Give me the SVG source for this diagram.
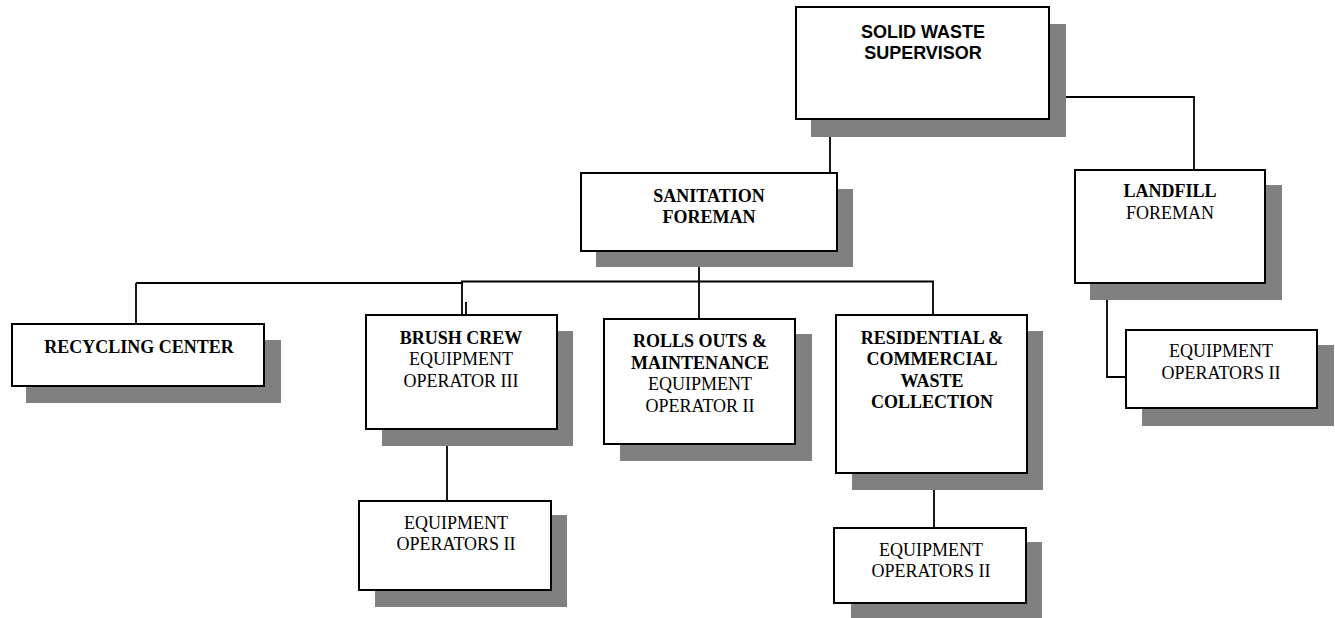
<svg xmlns="http://www.w3.org/2000/svg" width="1335" height="618" viewBox="0 0 1335 618">
<style>
.sh{fill:#808080}
.bx{fill:#fff;stroke:#000;stroke-width:2}
.ln{fill:none;stroke:#000;stroke-width:1.8}
text{font-family:"Liberation Serif","Times New Roman",serif;font-size:18px;text-anchor:middle;fill:#000}
.b{font-weight:bold}
.sans{font-family:"Liberation Sans",Arial,sans-serif;font-weight:bold}
</style>
<rect width="1335" height="618" fill="#fff"/>
<g id="connectors">
<path class="ln" d="M830,137 V173"/>
<path class="ln" d="M1066,97 H1194 V170"/>
<path class="ln" d="M699,267 V319"/>
<path class="ln" d="M136,283 H462 V281.5 H933 V315"/>
<path class="ln" d="M462,283 V315 M466,302 V315"/>
<path class="ln" d="M136,283 V324"/>
<path class="ln" d="M447,446 V501"/>
<path class="ln" d="M934,490 V528"/>
<path class="ln" d="M1107,300 V377 H1126"/>
</g>
<g id="supervisor">
<rect class="sh" x="811" y="24" width="255" height="113"/>
<rect class="bx" x="796" y="7" width="253" height="112"/>
<text class="sans" x="923" y="38">SOLID WASTE</text>
<text class="sans" x="923" y="59">SUPERVISOR</text>
</g>
<g id="sanitation">
<rect class="sh" x="596" y="189" width="257" height="78"/>
<rect class="bx" x="581" y="173" width="256" height="78"/>
<text class="b" x="709" y="202">SANITATION</text>
<text class="b" x="709" y="223">FOREMAN</text>
</g>
<g id="landfill">
<rect class="sh" x="1090" y="185" width="192" height="115"/>
<rect class="bx" x="1075" y="170" width="190" height="113"/>
<text class="b" x="1170" y="197">LANDFILL</text>
<text x="1170" y="219">FOREMAN</text>
</g>
<g id="recycling">
<rect class="sh" x="26" y="340" width="255" height="63"/>
<rect class="bx" x="12" y="324" width="252" height="62"/>
<text class="b" x="139" y="353">RECYCLING CENTER</text>
</g>
<g id="brush">
<rect class="sh" x="382" y="331" width="191" height="115"/>
<rect class="bx" x="366" y="315" width="191" height="114"/>
<text class="b" x="461" y="344">BRUSH CREW</text>
<text x="461" y="365">EQUIPMENT</text>
<text x="461" y="387">OPERATOR III</text>
</g>
<g id="rolls">
<rect class="sh" x="620" y="334" width="192" height="127"/>
<rect class="bx" x="604" y="319" width="191" height="125"/>
<text class="b" x="700" y="347">ROLLS OUTS &amp;</text>
<text class="b" x="700" y="369">MAINTENANCE</text>
<text x="700" y="390">EQUIPMENT</text>
<text x="700" y="412">OPERATOR II</text>
</g>
<g id="residential">
<rect class="sh" x="852" y="331" width="191" height="159"/>
<rect class="bx" x="836" y="315" width="191" height="158"/>
<text class="b" x="932" y="344">RESIDENTIAL &amp;</text>
<text class="b" x="932" y="365">COMMERCIAL</text>
<text class="b" x="932" y="387">WASTE</text>
<text class="b" x="932" y="408">COLLECTION</text>
</g>
<g id="brush-operators">
<rect class="sh" x="375" y="515" width="192" height="92"/>
<rect class="bx" x="359" y="501" width="192" height="89"/>
<text x="456" y="529">EQUIPMENT</text>
<text x="456" y="550">OPERATORS II</text>
</g>
<g id="residential-operators">
<rect class="sh" x="851" y="542" width="191" height="76"/>
<rect class="bx" x="834" y="528" width="192" height="75"/>
<text x="931" y="556">EQUIPMENT</text>
<text x="931" y="577">OPERATORS II</text>
</g>
<g id="landfill-operators">
<rect class="sh" x="1142" y="345" width="192" height="81"/>
<rect class="bx" x="1126" y="330" width="191" height="78"/>
<text x="1221" y="357">EQUIPMENT</text>
<text x="1221" y="379">OPERATORS II</text>
</g>
</svg>
